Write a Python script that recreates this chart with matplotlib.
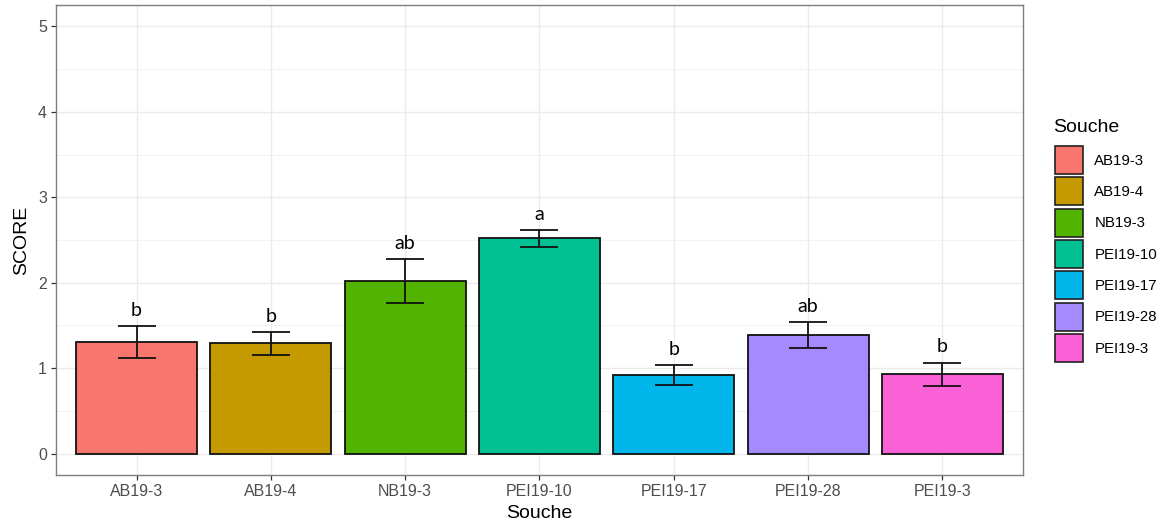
import numpy as np
import matplotlib
matplotlib.use("Agg")
from matplotlib import pyplot as plt
from matplotlib.patches import Patch
from matplotlib.ticker import MultipleLocator

souches = ["AB19-3", "AB19-4", "NB19-3", "PEI19-10", "PEI19-17", "PEI19-28", "PEI19-3"]
score_mean = [1.31, 1.29, 2.02, 2.52, 0.92, 1.39, 0.93]
score_se = [0.185, 0.135, 0.255, 0.10, 0.113, 0.15, 0.136]
groupes = ["b", "b", "ab", "a", "b", "ab", "b"]

# ggplot default hue palette for 7 levels
couleurs = ["#F8766D", "#C49A00", "#53B400", "#00C094", "#00B6EB", "#A58AFF", "#FB61D7"]

plt.rcParams["font.family"] = ["Liberation Sans", "DejaVu Sans"]

fig = plt.figure(figsize=(11.69, 5.29), dpi=100)
ax = fig.add_axes([0.0479, 0.102, 0.8272, 0.8885])

x = np.arange(len(souches))
ax.bar(x, score_mean, width=0.9, color=couleurs, edgecolor="#111111", linewidth=1.3, zorder=3)
ax.errorbar(x, score_mean, yerr=score_se, fmt="none", ecolor="#111111",
            elinewidth=1.3, capsize=13.5, capthick=1.3, zorder=4)

for xi, m, s, g in zip(x, score_mean, score_se, groupes):
    ax.text(xi, m + s + 0.12, g, ha="center", va="baseline",
            fontsize=14, family=["Lato", "DejaVu Sans"], color="black", zorder=5)

ax.set_xlim(-0.6, len(souches) - 0.4)
ax.set_ylim(-0.25, 5.25)
ax.set_xticks(x)
ax.set_xticklabels(souches)
ax.yaxis.set_major_locator(MultipleLocator(1))
ax.yaxis.set_minor_locator(MultipleLocator(0.5))

# theme_bw look
ax.grid(True, which="major", color="#EBEBEB", linewidth=1.0, zorder=0)
ax.grid(True, which="minor", axis="y", color="#F2F2F2", linewidth=0.7, zorder=0)
ax.set_axisbelow(True)
for sp in ax.spines.values():
    sp.set_color("#7F7F7F")
    sp.set_linewidth(1.0)
ax.tick_params(which="major", direction="out", length=3.5, width=0.9, color="#333333",
               labelsize=11.5, labelcolor="#4D4D4D", pad=3)
ax.tick_params(which="minor", length=0)

ax.set_xlabel("Souche", fontsize=14, labelpad=4)
ax.set_ylabel("SCORE", fontsize=14, labelpad=6)

# legend: title drawn apart so the gap to the keys can be set freely
fig.text(1053 / 1169, 1 - 127 / 529, "Souche", fontsize=14, ha="left", va="center")
handles = [Patch(facecolor=c, edgecolor="#222222", linewidth=1.2, label=s)
           for c, s in zip(couleurs, souches)]
fig.legend(handles=handles, loc="upper left",
           bbox_to_anchor=(1055 / 1169, 1 - 146 / 529), frameon=False,
           fontsize=10.8, handlelength=1.87, handleheight=2.5,
           labelspacing=0.22, handletextpad=0.75, borderpad=0, borderaxespad=0)

fig.savefig("out.png", dpi=100)
